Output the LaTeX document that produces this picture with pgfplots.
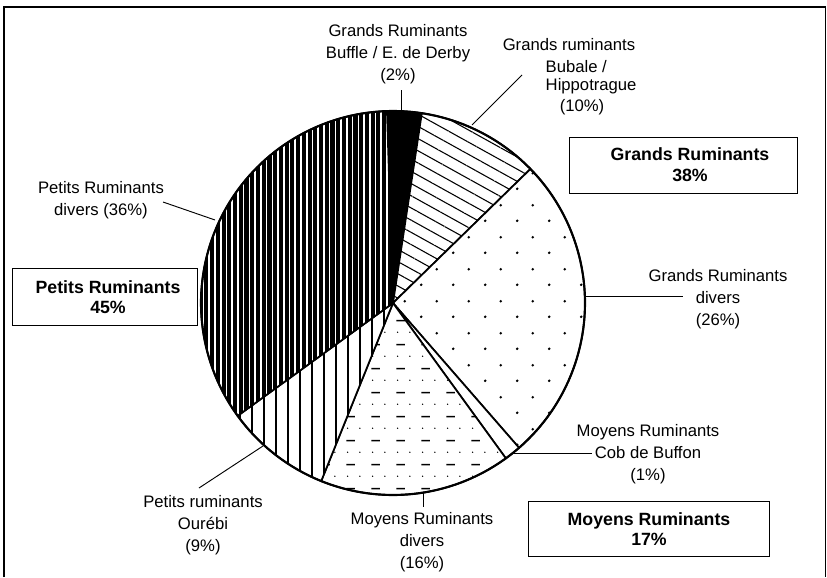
\documentclass[border=0pt]{standalone}
\usepackage{pgfplots}
\pgfplotsset{compat=1.18}
\usepackage{fontspec}
\setmainfont{Liberation Sans}
\usetikzlibrary{patterns,patterns.meta}

\pgfdeclarepattern{
  name=DotDash,
  type=uncolored,
  bottom left={\pgfpoint{0pt}{0pt}},
  top right={\pgfpoint{18.5pt}{18pt}},
  tile size={\pgfpoint{18.5pt}{18pt}},
  code={
    \pgfpathcircle{\pgfpoint{2pt}{4.5pt}}{0.6pt}
    \pgfpathcircle{\pgfpoint{11.25pt}{4.5pt}}{0.6pt}
    \pgfusepath{fill}
    \pgfsetlinewidth{1.1pt}
    \pgfpathmoveto{\pgfpoint{1pt}{13.5pt}}
    \pgfpathlineto{\pgfpoint{7.5pt}{13.5pt}}
    \pgfusepath{stroke}
  }
}
\pgfdeclarepattern{
  name=BigDots,
  type=uncolored,
  bottom left={\pgfpoint{0pt}{0pt}},
  top right={\pgfpoint{24pt}{24pt}},
  tile size={\pgfpoint{24pt}{24pt}},
  code={
    \pgfpathcircle{\pgfpoint{4pt}{4pt}}{1.1pt}
    \pgfpathcircle{\pgfpoint{16pt}{16pt}}{1.1pt}
    \pgfusepath{fill}
  }
}

\newcommand{\nf}{\fontsize{12.5}{16.5}\selectfont}
\newcommand{\bfnt}{\fontsize{13.3}{15.5}\selectfont\bfseries}

\begin{document}
\begin{tikzpicture}
\begin{axis}[
  x=0.75pt, y=0.75pt, y dir=reverse,
  xmin=0, xmax=827, ymin=0, ymax=577,
  hide axis, clip=false,
]
\path (axis cs:0,0) rectangle (axis cs:827,577);
% frame
\draw[line width=1pt] (axis cs:4,577) -- (axis cs:4,7) -- (axis cs:825.5,7) -- (axis cs:825.5,577);

% pie slices: cumulative shares in percent, start offset -1.8 deg, clockwise from top
% Grands Ruminants Buffle / E. de Derby
\addplot[draw=black, line width=1.3pt, fill=black, domain=0:2.9, samples=10]
  ({393+192*sin(3.6*x-1.8)},{303-192*cos(3.6*x-1.8)}) -- (axis cs:393,303) -- cycle;
% Grands ruminants Bubale / Hippotrague
\addplot[draw=black, line width=1.3pt, fill=white, domain=2.9:13.2, samples=30]
  ({393+192*sin(3.6*x-1.8)},{303-192*cos(3.6*x-1.8)}) -- (axis cs:393,303) -- cycle;
\addplot[draw=none, pattern={Lines[angle=-29, distance=8pt, line width=0.8pt]}, domain=2.9:13.2, samples=30]
  ({393+192*sin(3.6*x-1.8)},{303-192*cos(3.6*x-1.8)}) -- (axis cs:393,303) -- cycle;
% Grands Ruminants divers
\addplot[draw=black, line width=1.3pt, fill=white, domain=13.2:39.1, samples=60]
  ({393+192*sin(3.6*x-1.8)},{303-192*cos(3.6*x-1.8)}) -- (axis cs:393,303) -- cycle;
\addplot[draw=none, pattern=BigDots, domain=13.2:39.1, samples=60]
  ({393+192*sin(3.6*x-1.8)},{303-192*cos(3.6*x-1.8)}) -- (axis cs:393,303) -- cycle;
% Moyens Ruminants Cob de Buffon
\addplot[draw=black, line width=1.3pt, fill=white, domain=39.1:40.5, samples=5]
  ({393+192*sin(3.6*x-1.8)},{303-192*cos(3.6*x-1.8)}) -- (axis cs:393,303) -- cycle;
% Moyens Ruminants divers
\addplot[draw=black, line width=1.3pt, fill=white, domain=40.5:56.6, samples=40]
  ({393+192*sin(3.6*x-1.8)},{303-192*cos(3.6*x-1.8)}) -- (axis cs:393,303) -- cycle;
\addplot[draw=none, pattern=DotDash, domain=40.5:56.6, samples=40]
  ({393+192*sin(3.6*x-1.8)},{303-192*cos(3.6*x-1.8)}) -- (axis cs:393,303) -- cycle;
% Petits ruminants Ourebi
\addplot[draw=black, line width=1.3pt, fill=white, domain=56.6:65.5, samples=25]
  ({393+192*sin(3.6*x-1.8)},{303-192*cos(3.6*x-1.8)}) -- (axis cs:393,303) -- cycle;
\addplot[draw=none, pattern={Lines[angle=90, distance=9pt, line width=0.8pt]}, domain=56.6:65.5, samples=25]
  ({393+192*sin(3.6*x-1.8)},{303-192*cos(3.6*x-1.8)}) -- (axis cs:393,303) -- cycle;
% Petits Ruminants divers
\addplot[draw=black, line width=1.3pt, fill=white, domain=65.5:100, samples=80]
  ({393+192*sin(3.6*x-1.8)},{303-192*cos(3.6*x-1.8)}) -- (axis cs:393,303) -- cycle;
\addplot[draw=none, pattern={Lines[angle=90, distance=4.3pt, line width=3.1pt]}, domain=65.5:100, samples=80]
  ({393+192*sin(3.6*x-1.8)},{303-192*cos(3.6*x-1.8)}) -- (axis cs:393,303) -- cycle;
% outline again on top
\addplot[draw=black, line width=1.6pt, domain=0:100, samples=200]
  ({393+192*sin(3.6*x-1.8)},{303-192*cos(3.6*x-1.8)});

% leader lines
\draw[line width=0.7pt] (axis cs:401,90) -- (axis cs:401,111);
\draw[line width=0.7pt] (axis cs:522,75) -- (axis cs:472,125);
\draw[line width=0.7pt] (axis cs:584,296) -- (axis cs:683,296);
\draw[line width=0.7pt] (axis cs:512,453) -- (axis cs:592,453);
\draw[line width=0.7pt] (axis cs:423,493) -- (axis cs:423,507);
\draw[line width=0.7pt] (axis cs:263,446) -- (axis cs:199,488);
\draw[line width=0.7pt] (axis cs:163,202) -- (axis cs:215,220);

% labels
\node[align=center, font=\nf] at (axis cs:398,54) {Grands Ruminants\\Buffle / E. de Derby\\(2\%)};
\node[font=\nf] at (axis cs:569,45) {Grands ruminants};
\node[font=\nf, anchor=west] at (axis cs:541,67) {Bubale /};
\node[font=\nf, anchor=west] at (axis cs:541,86) {Hippotrague};
\node[font=\nf] at (axis cs:582,107) {(10\%)};
\node[align=center, font=\nf] at (axis cs:718,299) {Grands Ruminants\\divers\\(26\%)};
\node[align=center, font=\nf] at (axis cs:648,454) {Moyens Ruminants\\Cob de Buffon\\(1\%)};
\node[align=center, font=\nf] at (axis cs:422,542) {Moyens Ruminants\\divers\\(16\%)};
\node[align=center, font=\nf] at (axis cs:203,525) {Petits ruminants\\Ourébi\\(9\%)};
\node[align=center, font=\nf] at (axis cs:101,200) {Petits Ruminants\\divers (36\%)};

% summary boxes
\draw[line width=0.7pt, fill=white] (axis cs:569,137) rectangle (axis cs:797,193);
\node[align=center, font=\bfnt] at (axis cs:690,165) {Grands Ruminants\\38\%};
\draw[line width=0.7pt, fill=white] (axis cs:12,268) rectangle (axis cs:197,325);
\node[align=center, font=\bfnt] at (axis cs:108,297) {Petits Ruminants\\45\%};
\draw[line width=0.7pt, fill=white] (axis cs:528,501) rectangle (axis cs:769,556);
\node[align=center, font=\bfnt] at (axis cs:649,529) {Moyens Ruminants\\17\%};
\end{axis}
\end{tikzpicture}
\end{document}
